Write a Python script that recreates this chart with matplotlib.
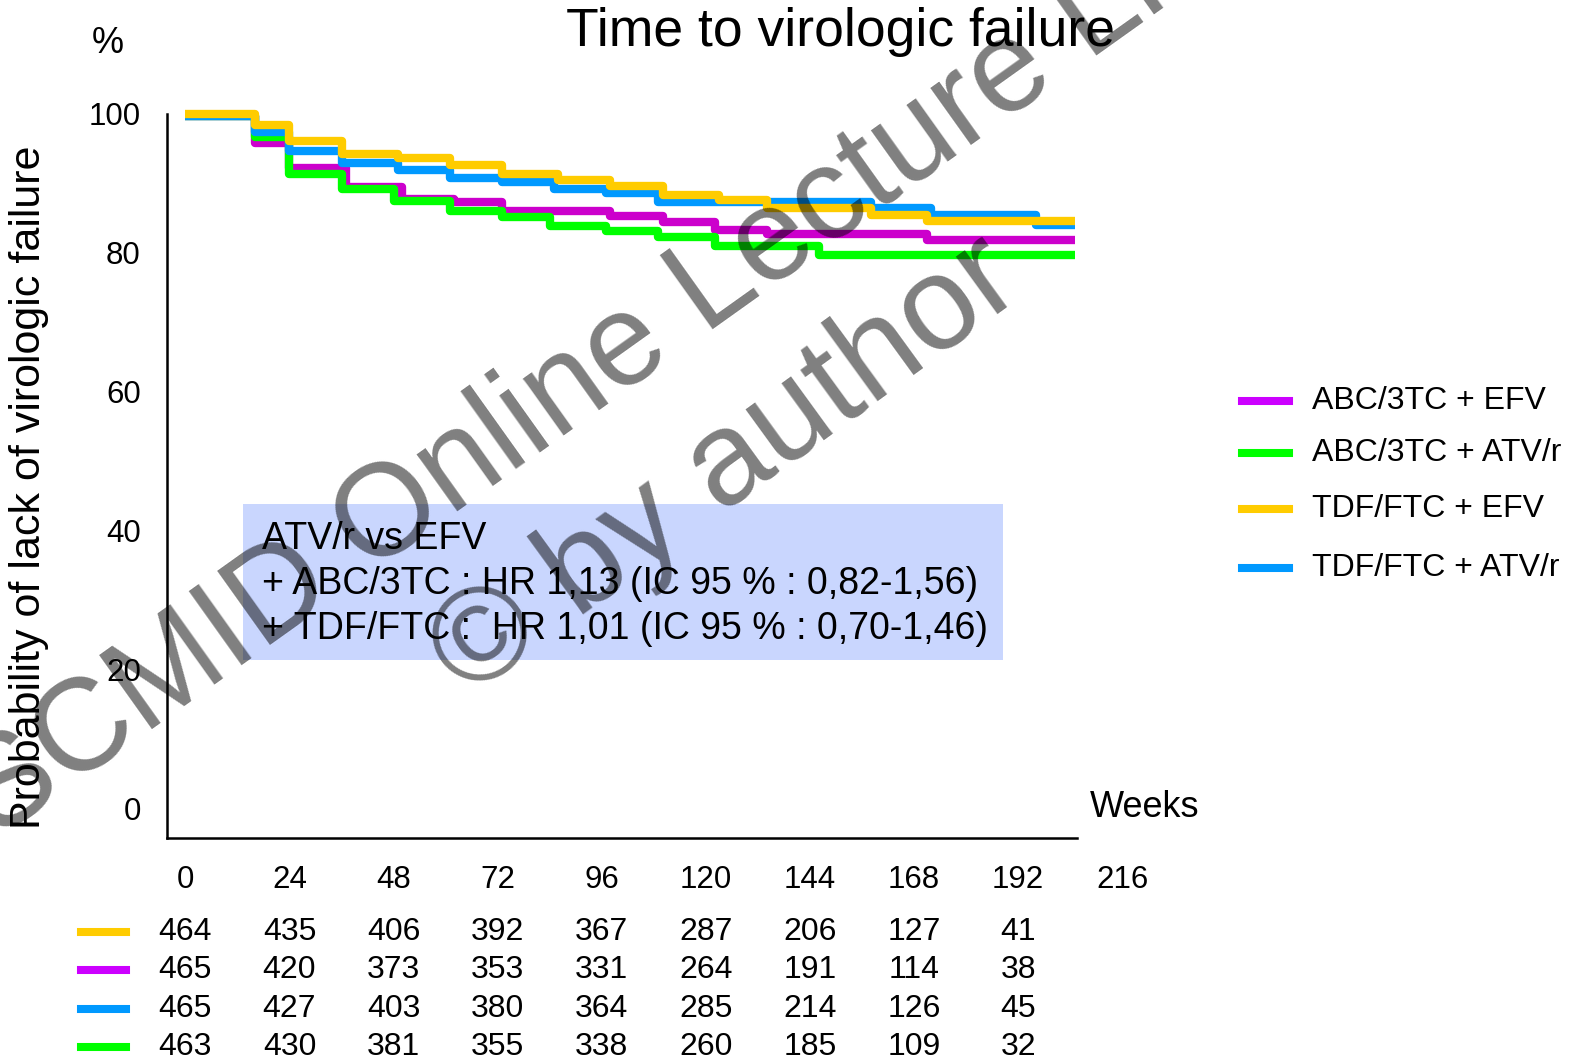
import matplotlib.pyplot as plt
from matplotlib.lines import Line2D
from matplotlib.patches import Rectangle
from matplotlib.transforms import blended_transform_factory

plt.rcParams['font.family'] = ['Liberation Sans', 'DejaVu Sans']

# ---------------- DATA ----------------
weeks_ticks = [0, 24, 48, 72, 96, 120, 144, 168, 192, 216]
prob_ticks = [0, 20, 40, 60, 80, 100]

# KM steps (weeks, % without virologic failure)
tdf_efv_t = [0, 16, 24, 36, 49, 61, 73, 86, 98, 110, 123, 134, 158, 171, 205]
tdf_efv_v = [100, 98.3, 96.1, 94.2, 93.6, 92.6, 91.3, 90.5, 89.6, 88.3, 87.6, 86.4, 85.4, 84.5, 84.5]

tdf_atv_t = [0, 16, 24, 36, 49, 61, 73, 85, 97, 109, 158, 172, 196, 205]
tdf_atv_v = [99.6, 97.3, 94.6, 92.9, 91.9, 90.7, 90.2, 89.2, 88.6, 87.2, 86.4, 85.4, 84.0, 84.0]

abc_efv_t = [0, 16, 24, 37, 50, 62, 73, 98, 110, 122, 134, 171, 205]
abc_efv_v = [99.6, 95.7, 92.2, 89.4, 87.7, 87.2, 86.0, 85.2, 84.4, 83.3, 82.6, 81.8, 81.8]

abc_atv_t = [0, 16, 24, 36, 48, 61, 73, 84, 97, 109, 122, 146, 205]
abc_atv_v = [99.6, 96.6, 91.3, 89.2, 87.4, 86.0, 85.1, 83.8, 83.1, 82.2, 81.0, 79.6, 79.6]

legend_labels = ["ABC/3TC + EFV", "ABC/3TC + ATV/r", "TDF/FTC + EFV", "TDF/FTC + ATV/r"]
legend_colors = ["#CC00FF", "#00FF00", "#FFCC00", "#0099FF"]

# numbers at risk (rows: TDF/FTC+EFV, ABC/3TC+EFV, TDF/FTC+ATV/r, ABC/3TC+ATV/r)
risk_weeks = [0, 24, 48, 72, 96, 120, 144, 168, 192]
risk_colors = ["#FFCC00", "#CC00FF", "#0099FF", "#00FF00"]
risk_rows = [
    [464, 435, 406, 392, 367, 287, 206, 127, 41],
    [465, 420, 373, 353, 331, 264, 191, 114, 38],
    [465, 427, 403, 380, 364, 285, 214, 126, 45],
    [463, 430, 381, 355, 338, 260, 185, 109, 32],
]

hr_lines = [
    "ATV/r vs EFV",
    "+ ABC/3TC : HR 1,13 (IC 95 % : 0,82-1,56)",
    "+ TDF/FTC :  HR 1,01 (IC 95 % : 0,70-1,46)",
]

# layout positions below are in pixels of a 1568x1054 view
W, H = 1568, 1054


def fx(px):
    return px / W


def fy(py):
    return 1 - py / H


# ---------------- FIGURE ----------------
fig = plt.figure(figsize=(15.79, 10.61), dpi=100)
ax = fig.add_axes([fx(166), fy(832), fx(1136) - fx(166), fy(99) - fy(832)])
ax.set_xlim(-4.2, 221)
ax.set_ylim(-4.2, 102)

for sp in ['top', 'right']:
    ax.spines[sp].set_visible(False)
ax.spines['left'].set_bounds(-4.2, 100)
ax.spines['bottom'].set_bounds(-4.2, 205.6)
ax.spines['left'].set_linewidth(1.8)
ax.spines['bottom'].set_linewidth(1.8)

ax.set_xticks(weeks_ticks)
ax.set_yticks(prob_ticks)
ax.tick_params(axis='x', length=0, pad=20, labelsize=22.5)
ax.tick_params(axis='y', length=0, pad=19, labelsize=22.5)

# curves (bottom to top)
curves = [
    (abc_efv_t, abc_efv_v, "#CC00CC"),
    (abc_atv_t, abc_atv_v, "#00FF00"),
    (tdf_atv_t, tdf_atv_v, "#0099FF"),
    (tdf_efv_t, tdf_efv_v, "#FFCC00"),
]
for i, (t, v, c) in enumerate(curves):
    ax.step(t, v, where='post', color=c, lw=6, clip_on=False,
            solid_joinstyle='round', solid_capstyle='butt', zorder=3 + i)

# texts around axes
fig.text(fx(835), fy(32), "Time to virologic failure", fontsize=38.5, ha='center', va='center')
fig.text(fx(107), fy(43), "%", fontsize=26, ha='center', va='center')
fig.text(fx(29), fy(484), "Probability of lack of virologic failure", fontsize=31,
         rotation=90, ha='center', va='center')
fig.text(fx(1082), fy(802), "Weeks", fontsize=26, ha='left', va='center')

# legend
leg_y = [398, 450, 506, 564]
for lab, col, py in zip(legend_labels, legend_colors, leg_y):
    fig.add_artist(Line2D([fx(1233), fx(1280)], [fy(py), fy(py)], color=col, lw=5.8))
    fig.text(fx(1303), fy(py), lab, fontsize=23, ha='left', va='center')

# HR box
fig.add_artist(Rectangle((fx(241), fy(656)), fx(996) - fx(241), fy(501) - fy(656),
                         transform=fig.transFigure, facecolor="#C9D6FE", edgecolor='none',
                         zorder=1))
for line, py in zip(hr_lines, [535, 580, 625]):
    fig.text(fx(260), fy(py), line, fontsize=27, ha='left', va='center', zorder=2)

# numbers at risk
trans = blended_transform_factory(ax.transData, fig.transFigure)
row_y = [926, 964, 1002, 1040]
for vals, col, py in zip(risk_rows, risk_colors, row_y):
    fig.add_artist(Line2D([fx(80), fx(125)], [fy(py), fy(py)], color=col, lw=5.8))
    for wk, n in zip(risk_weeks, vals):
        ax.text(wk, fy(py), str(n), transform=trans, fontsize=23,
                ha='center', va='center', clip_on=False)

# watermark
fig.text(fx(645), fy(330), "ESCMID Online Lecture Library", fontsize=94, color='black',
         alpha=0.5, rotation=35.5, rotation_mode='anchor', ha='center', va='center', zorder=20)
fig.text(fx(722), fy(465), "\u00a9 by author", fontsize=96, color='black',
         alpha=0.5, rotation=36, rotation_mode='anchor', ha='center', va='center', zorder=20)

fig.savefig("out.png", dpi=100)
